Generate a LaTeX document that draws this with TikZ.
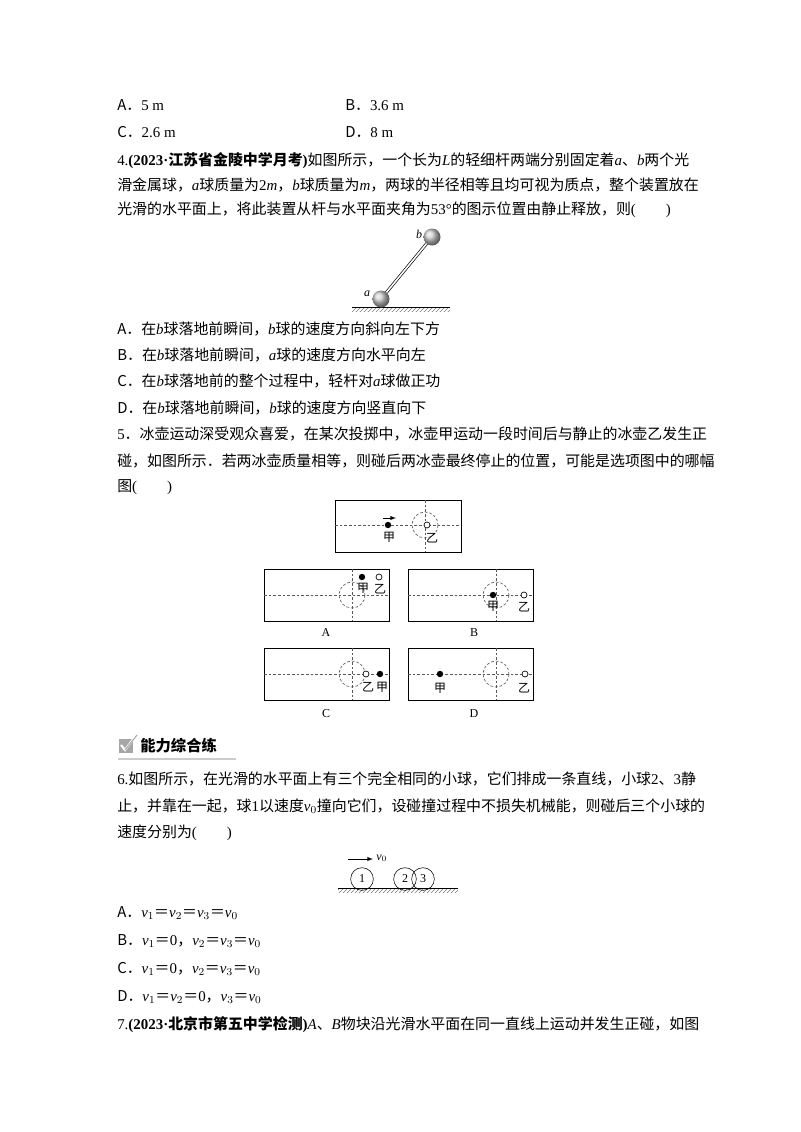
\documentclass[tikz,border=0pt]{standalone}
\usepackage{fontspec}
\setmainfont{Noto Sans CJK SC}
\newfontfamily\ls{Liberation Serif}
\usetikzlibrary{patterns}
\newcommand\mi[1]{{\ls\itshape #1}}
\newcommand\rmn[1]{{\ls #1}}
\begin{document}
\begin{tikzpicture}[x=0.75pt,y=-0.75pt,
 tx/.style={anchor=west,inner sep=0pt,font=\fontsize{11.2pt}{13pt}\selectfont},
 sm/.style={inner sep=0pt,font=\fontsize{9pt}{10pt}\selectfont},
 dsh/.style={dashed,dash pattern=on 2pt off 1.5pt,gray!70!black,line width=0.5pt},
 bx/.style={draw,line width=0.5pt},
 bd/.style={fill=black},
 wd/.style={draw,fill=white,line width=0.5pt},
 ball/.style={draw,circle,minimum size=17,inner sep=0pt,font=\fontsize{9pt}{10pt}\selectfont}]
\useasboundingbox[fill=white] (0,0) rectangle (800,1132);
% Q3 options
\node[tx] (o1) at (117,105) {A．\rmn{5 m}};
\node[tx] (o2) at (345,105) {B．\rmn{3.6 m}};
\node[tx] (o3) at (117,132) {C．\rmn{2.6 m}};
\node[tx] (o4) at (345,132) {D．\rmn{8 m}};
% Q4
\node[tx] (q4a) at (117,161) {\rmn{4.}\textbf{\rmn{(2023·}江苏省金陵中学月考\rmn{)}}如图所示，一个长为\mi{L}的轻细杆两端分别固定着\mi{a}、\mi{b}两个光};
\node[tx] (q4b) at (117,185) {滑金属球，\mi{a}球质量为\rmn{2}\mi{m}，\mi{b}球质量为\mi{m}，两球的半径相等且均可视为质点，整个装置放在};
\node[tx] (q4c) at (117,210) {光滑的水平面上，将此装置从杆与水平面夹角为\rmn{53°}的图示位置由静止释放，则\rmn{(\hspace{2em})}};
% rod figure
\fill[pattern=north east lines,pattern color=gray] (352,307) rectangle (450,311);
\draw[line width=0.6pt] (352,307) -- (450,307);
\coordinate (ca) at (381,299); \coordinate (cb) at (432,237);
\draw[line width=2.2pt] (ca) -- (cb);
\draw[line width=1.2pt,white] (ca) -- (cb);
\shade[ball color=gray!40] (ca) circle (8.5);
\shade[ball color=gray!40] (cb) circle (8.5);
\node[sm] (la) at (367,294) {\mi{a}};
\node[sm] (lb) at (419,234) {\mi{b}};
\node[tx] (a4a) at (117,329) {A．在\mi{b}球落地前瞬间，\mi{b}球的速度方向斜向左下方};
\node[tx] (a4b) at (117,355) {B．在\mi{b}球落地前瞬间，\mi{a}球的速度方向水平向左};
\node[tx] (a4c) at (117,381) {C．在\mi{b}球落地前的整个过程中，轻杆对\mi{a}球做正功};
\node[tx] (a4d) at (117,408) {D．在\mi{b}球落地前瞬间，\mi{b}球的速度方向竖直向下};
% Q5
\node[tx] (q5a) at (117,434) {\rmn{5}．冰壶运动深受观众喜爱，在某次投掷中，冰壶甲运动一段时间后与静止的冰壶乙发生正};
\node[tx] (q5b) at (117,461) {碰，如图所示．若两冰壶质量相等，则碰后两冰壶最终停止的位置，可能是选项图中的哪幅};
\node[tx] (q5c) at (117,487) {图\rmn{(\hspace{2em})}};
% top box
\draw[bx] (335,500) rectangle (461,552);
\draw[dsh] (335,525) -- (461,525); \draw[dsh] (425,500) -- (425,552);
\draw[dsh] (425,525) circle (13);
\fill[bd] (388,525) circle (3.2);
\draw[-{latex},line width=0.5pt] (383,518) -- (396,518);
\node[sm] (t1) at (389,537) {甲};
\draw[wd] (427,525) circle (3);
\node[sm] (t2) at (432,538) {乙};
% option boxes
\foreach \x/\y in {264/569,408/569,264/648,408/648}{
 \draw[bx] (\x,\y) rectangle ++(125,52);
 \draw[dsh] (\x,\y+26) -- ++(125,0);
 \draw[dsh] (\x+88,\y) -- ++(0,52);
 \draw[dsh] (\x+88,\y+26) circle (13);
}
% A
\fill[bd] (362,577) circle (3.2); \node[sm] (ja) at (363,588) {甲};
\draw[wd] (379,577) circle (3); \node[sm] (ya) at (380,589) {乙};
% B
\fill[bd] (493,595) circle (3.2); \node[sm] (jb) at (493,606) {甲};
\draw[wd] (524,595) circle (3); \node[sm] (yb) at (524,607) {乙};
% C
\draw[wd] (366,674) circle (3); \node[sm] (yc) at (368,687) {乙};
\fill[bd] (380,674) circle (3.2); \node[sm] (jc) at (382,687) {甲};
% D
\fill[bd] (440,674) circle (3.2); \node[sm] (jd) at (440,688) {甲};
\draw[wd] (525,674) circle (3); \node[sm] (yd) at (524,688) {乙};
\node[sm] (LA) at (326,633) {\rmn{A}};
\node[sm] (LB) at (474,633) {\rmn{B}};
\node[sm] (LC) at (326,714) {\rmn{C}};
\node[sm] (LD) at (474,714) {\rmn{D}};
% header
\fill[gray!70] (119,739) rectangle (133,753);
\draw[white,line width=1.6pt] (121,745) -- (125,750) -- (134,738);
\draw[gray!70,line width=0.8pt] (125,750) -- (137,735);
\node[tx,font=\fontsize{11.5pt}{13pt}\selectfont\bfseries] (hd) at (140,746) {能力综合练};
\draw[gray!40,line width=0.8pt] (118,759) -- (236,759);
% Q6
\node[tx] (q6a) at (117,779) {\rmn{6.}如图所示，在光滑的水平面上有三个完全相同的小球，它们排成一条直线，小球\rmn{2}、\rmn{3}静};
\node[tx] (q6b) at (117,806) {止，并靠在一起，球\rmn{1}以速度\mi{v}\rmn{$_0$}撞向它们，设碰撞过程中不损失机械能，则碰后三个小球的};
\node[tx] (q6c) at (117,833) {速度分别为\rmn{(\hspace{2em})}};
\fill[pattern=north east lines,pattern color=gray] (338,888) rectangle (458,892);
\draw[line width=0.6pt] (338,888) -- (458,888);
\draw[-{latex},line width=0.5pt] (348,859) -- (373,859);
\node[sm,anchor=west] (v0) at (376,858) {\mi{v}\rmn{$_0$}};
\node[ball] (b1) at (362,879) {\rmn{1}};
\node[ball] (b2) at (405,879) {\rmn{2}};
\node[ball] (b3) at (423,879) {\rmn{3}};
\node[tx] (a6a) at (117,913) {A．\mi{v}\rmn{$_1$}＝\mi{v}\rmn{$_2$}＝\mi{v}\rmn{$_3$}＝\mi{v}\rmn{$_0$}};
\node[tx] (a6b) at (117,941) {B．\mi{v}\rmn{$_1$}＝\rmn{0}，\mi{v}\rmn{$_2$}＝\mi{v}\rmn{$_3$}＝\mi{v}\rmn{$_0$}};
\node[tx] (a6c) at (117,969) {C．\mi{v}\rmn{$_1$}＝\rmn{0}，\mi{v}\rmn{$_2$}＝\mi{v}\rmn{$_3$}＝\mi{v}\rmn{$_0$}};
\node[tx] (a6d) at (117,997) {D．\mi{v}\rmn{$_1$}＝\mi{v}\rmn{$_2$}＝\rmn{0}，\mi{v}\rmn{$_3$}＝\mi{v}\rmn{$_0$}};
\node[tx] (q7) at (117,1025) {\rmn{7.}\textbf{\rmn{(2023·}北京市第五中学检测\rmn{)}}\mi{A}、\mi{B}物块沿光滑水平面在同一直线上运动并发生正碰，如图};
\end{tikzpicture}
\end{document}
